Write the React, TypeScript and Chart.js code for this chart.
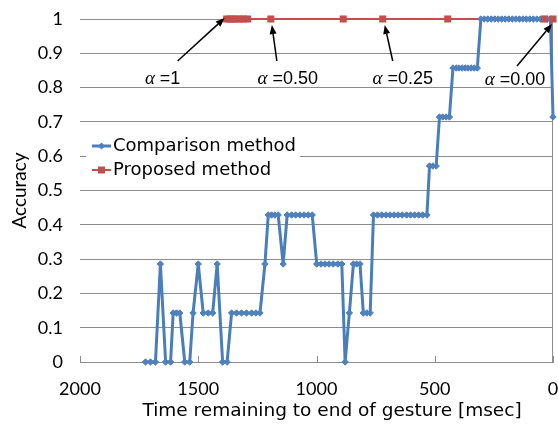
import React, { useEffect, useRef } from 'react';
import { Chart, registerables } from 'chart.js';

Chart.register(...registerables);

// ---------------- data ----------------
const seriesLabels = ['Comparison method', 'Proposed method'];

const comparisonTime = [
  1723, 1702, 1681, 1660, 1638, 1617, 1606, 1592, 1578, 1557, 1536, 1522, 1500,
  1479, 1458, 1439, 1420, 1397, 1378,
  1359, 1338, 1317, 1296, 1274, 1256, 1239,
  1218, 1204, 1190, 1176, 1162, 1141,
  1124, 1105, 1088, 1070, 1053, 1035, 1018,
  999, 981, 964, 947, 929, 910, 893,
  879, 861, 844, 830, 816, 802, 787, 773,
  759, 742, 724, 706, 689, 672, 655, 638, 619, 602, 585, 568, 551, 533,
  522, 508, 494,
  480, 466, 452, 438,
  423, 409, 397, 384, 371, 359, 346, 333, 320,
  305, 291, 276, 261, 246, 232, 217, 202, 187, 172, 157, 142, 127, 113, 98, 83, 68, 53, 38, 24, 11,
  0,
];
const comparisonAccuracy = [
  0, 0, 0, 0.2857, 0, 0, 0.1429, 0.1429, 0.1429, 0, 0, 0.1429, 0.2857,
  0.1429, 0.1429, 0.1429, 0.2857, 0, 0,
  0.1429, 0.1429, 0.1429, 0.1429, 0.1429, 0.1429, 0.1429,
  0.2857, 0.4286, 0.4286, 0.4286, 0.4286, 0.2857,
  0.4286, 0.4286, 0.4286, 0.4286, 0.4286, 0.4286, 0.4286,
  0.2857, 0.2857, 0.2857, 0.2857, 0.2857, 0.2857, 0.2857,
  0, 0.1429, 0.2857, 0.2857, 0.2857, 0.1429, 0.1429, 0.1429,
  0.4286, 0.4286, 0.4286, 0.4286, 0.4286, 0.4286, 0.4286, 0.4286, 0.4286, 0.4286, 0.4286, 0.4286, 0.4286, 0.4286,
  0.5714, 0.5714, 0.5714,
  0.7143, 0.7143, 0.7143, 0.7143,
  0.8571, 0.8571, 0.8571, 0.8571, 0.8571, 0.8571, 0.8571, 0.8571, 0.8571,
  1, 1, 1, 1, 1, 1, 1, 1, 1, 1, 1, 1, 1, 1, 1, 1, 1, 1, 1, 1, 1,
  0.7143,
];

const proposedTime = [1380, 1366, 1354, 1341, 1324, 1310, 1291, 1193, 887, 720, 445, 36, 0];
const proposedAccuracy = [1, 1, 1, 1, 1, 1, 1, 1, 1, 1, 1, 1, 1];

const xTickValues = [0, 500, 1000, 1500, 2000];
const yTickValues = [0, 0.1, 0.2, 0.3, 0.4, 0.5, 0.6, 0.7, 0.8, 0.9, 1];

const xTitle = 'Time remaining to end of gesture [msec]';
const yTitle = 'Accuracy';

const alphaValues = ['1', '0.50', '0.25', '0.00'];
const alphaTargetTime = [1380, 1193, 720, 0];

// ---------------- layout / style ----------------
const BLUE_LINE = '#4A7EBB';
const BLUE = '#4F81BD';
const RED = '#C0504D';
const GRID = '#8C8C8C';

const ANNOT_LAYOUT = [
  { head: [-2, -1], tail: [-49, 42], text: [-64, 65] },
  { head: [1, 6], tail: [6, 42], text: [17, 65] },
  { head: [2, 6], tail: [10, 42], text: [20, 65] },
  { head: [-1, 5], tail: [-36, 47], text: [-38, 66] },
];

const LEGEND_BOX = { x: 86, y: 134, w: 214, h: 49 };
const LEGEND_ROWS = [146, 170];
const LEGEND_SAMPLE = { x0: 92, x1: 111, textX: 113 };

function drawArrow(ctx: CanvasRenderingContext2D, x1: number, y1: number, x2: number, y2: number) {
  const ang = Math.atan2(y2 - y1, x2 - x1);
  const L = 9;
  const W = 3.5;
  const c = Math.cos(ang);
  const s = Math.sin(ang);
  const bx = x2 - L * c;
  const by = y2 - L * s;
  ctx.beginPath();
  ctx.moveTo(x1, y1);
  ctx.lineTo(bx, by);
  ctx.stroke();
  ctx.beginPath();
  ctx.moveTo(x2, y2);
  ctx.lineTo(bx + W * s, by - W * c);
  ctx.lineTo(bx - W * s, by + W * c);
  ctx.closePath();
  ctx.fill();
}

const decorPlugin = {
  id: 'decor',
  beforeDatasetsDraw(chart: any) {
    const { ctx, chartArea: a, scales } = chart;
    ctx.save();
    ctx.strokeStyle = GRID;
    ctx.lineWidth = 1;
    ctx.beginPath();
    const rx = Math.round(a.right) - 0.5;
    ctx.moveTo(rx, a.top);
    ctx.lineTo(rx, a.bottom);
    for (const v of xTickValues) {
      const px = Math.round(scales.x.getPixelForValue(v)) + 0.5;
      ctx.moveTo(px, a.bottom);
      ctx.lineTo(px, a.bottom - 6);
    }
    ctx.stroke();
    ctx.restore();
  },
  afterDraw(chart: any) {
    const { ctx, scales } = chart;
    const sx = scales.x;
    const sy = scales.y;
    ctx.save();

    // legend
    ctx.fillStyle = '#ffffff';
    ctx.fillRect(LEGEND_BOX.x, LEGEND_BOX.y, LEGEND_BOX.w, LEGEND_BOX.h);
    const mid = (LEGEND_SAMPLE.x0 + LEGEND_SAMPLE.x1) / 2;
    let y = LEGEND_ROWS[0];
    ctx.strokeStyle = BLUE_LINE;
    ctx.lineWidth = 3;
    ctx.beginPath();
    ctx.moveTo(LEGEND_SAMPLE.x0, y);
    ctx.lineTo(LEGEND_SAMPLE.x1, y);
    ctx.stroke();
    ctx.fillStyle = BLUE;
    ctx.beginPath();
    ctx.moveTo(mid, y - 3.5);
    ctx.lineTo(mid + 3.5, y);
    ctx.lineTo(mid, y + 3.5);
    ctx.lineTo(mid - 3.5, y);
    ctx.closePath();
    ctx.fill();
    y = LEGEND_ROWS[1];
    ctx.strokeStyle = RED;
    ctx.lineWidth = 2;
    ctx.beginPath();
    ctx.moveTo(LEGEND_SAMPLE.x0, y);
    ctx.lineTo(LEGEND_SAMPLE.x1, y);
    ctx.stroke();
    ctx.fillStyle = RED;
    ctx.fillRect(mid - 3.5, y - 3.5, 7, 7);
    ctx.fillStyle = '#000';
    ctx.font = '18px "DejaVu Sans"';
    ctx.textAlign = 'left';
    ctx.textBaseline = 'middle';
    ctx.fillText(seriesLabels[0], LEGEND_SAMPLE.textX, LEGEND_ROWS[0]);
    ctx.fillText(seriesLabels[1], LEGEND_SAMPLE.textX, LEGEND_ROWS[1]);

    // annotations
    ctx.strokeStyle = '#000';
    ctx.fillStyle = '#000';
    ctx.lineWidth = 1.5;
    ctx.textBaseline = 'alphabetic';
    alphaValues.forEach((val, i) => {
      const tx = sx.getPixelForValue(alphaTargetTime[i]);
      const ty = sy.getPixelForValue(1);
      const L = ANNOT_LAYOUT[i];
      drawArrow(ctx, tx + L.tail[0], ty + L.tail[1], tx + L.head[0], ty + L.head[1]);
      const fa = 'italic 19px "Liberation Serif"';
      const fr = '18px "Liberation Sans"';
      const rest = ' =' + val;
      ctx.font = fa;
      const wa = ctx.measureText('\u03b1').width;
      ctx.font = fr;
      const wr = ctx.measureText(rest).width;
      const cx = tx + L.text[0];
      const by = ty + L.text[1];
      const start = cx - (wa + wr) / 2;
      ctx.textAlign = 'left';
      ctx.font = fa;
      ctx.fillText('\u03b1', start, by);
      ctx.font = fr;
      ctx.fillText(rest, start + wa, by);
    });

    // x-axis title
    ctx.font = '18.5px "DejaVu Sans"';
    ctx.textAlign = 'center';
    ctx.textBaseline = 'alphabetic';
    ctx.fillText(xTitle, 332, 416);

    ctx.restore();
  },
};

export default function App() {
  const ref = useRef<HTMLCanvasElement>(null);
  useEffect(() => {
    document.body.style.margin = '0';
    const canvas = ref.current;
    if (!canvas) return;
    const comparisonPoints = comparisonTime.map((t, i) => ({ x: t, y: comparisonAccuracy[i] }));
    const proposedPoints = proposedTime.map((t, i) => ({ x: t, y: proposedAccuracy[i] }));
    const chart = new Chart(canvas, {
      type: 'scatter',
      data: {
        datasets: [
          {
            label: seriesLabels[1],
            data: proposedPoints,
            showLine: true,
            borderColor: RED,
            borderWidth: 2,
            pointRadius: 0,
            clip: false,
            order: 3,
          },
          {
            label: seriesLabels[0],
            data: comparisonPoints,
            showLine: true,
            borderColor: BLUE_LINE,
            borderWidth: 3,
            borderJoinStyle: 'round',
            pointStyle: 'rectRot',
            pointRadius: 3.2,
            pointBackgroundColor: BLUE,
            pointBorderColor: BLUE,
            pointBorderWidth: 1,
            clip: false,
            order: 2,
          },
          {
            label: seriesLabels[1],
            data: proposedPoints,
            showLine: false,
            pointStyle: 'rect',
            pointRadius: 5,
            pointBackgroundColor: RED,
            pointBorderColor: RED,
            pointBorderWidth: 0,
            clip: false,
            order: 1,
          },
        ] as any,
      },
      options: {
        animation: false,
        responsive: false,
        devicePixelRatio: 1,
        layout: { padding: { top: 19, right: 5, left: 0, bottom: 0 } },
        plugins: { legend: { display: false }, tooltip: { enabled: false } },
        events: [],
        scales: {
          x: {
            type: 'linear',
            reverse: true,
            min: 0,
            max: 2000,
            afterBuildTicks: (s: any) => {
              s.ticks = xTickValues.map((v) => ({ value: v }));
            },
            afterFit: (s: any) => {
              s.height = 63;
              s.paddingLeft = 0;
              s.paddingRight = 0;
            },
            grid: { display: false, drawTicks: false },
            border: { display: true, color: GRID, width: 1 },
            ticks: {
              color: '#000',
              font: { family: 'Lato', size: 18 },
              padding: 16,
              maxRotation: 0,
              autoSkip: false,
              callback: (v: any) => String(v),
            },
          },
          y: {
            type: 'linear',
            min: 0,
            max: 1,
            afterBuildTicks: (s: any) => {
              s.ticks = yTickValues.map((v) => ({ value: v }));
            },
            afterFit: (s: any) => {
              s.width = 80;
              s.paddingTop = 0;
              s.paddingBottom = 0;
            },
            grid: { color: GRID, lineWidth: 1, drawTicks: false },
            border: { display: false },
            ticks: {
              color: '#000',
              font: { family: 'Lato', size: 18 },
              padding: 17,
              autoSkip: false,
              callback: (v: any) => String(v),
            },
            title: {
              display: true,
              text: yTitle,
              color: '#000',
              font: { family: 'Lato', size: 19 },
              padding: { top: 8, bottom: 0 },
            },
          },
        },
      },
      plugins: [decorPlugin],
    } as any);
    return () => chart.destroy();
  }, []);
  return (
    <div style={{ width: 558, height: 425, position: 'relative' }}>
      <canvas ref={ref} width={558} height={425} style={{ display: 'block', width: 558, height: 425 }} />
    </div>
  );
}
